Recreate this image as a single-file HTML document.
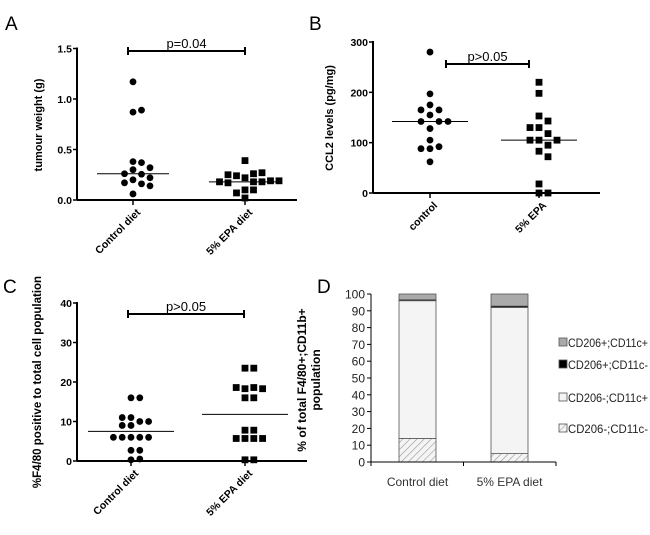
<!DOCTYPE html>
<html><head><meta charset="utf-8">
<style>
html,body{margin:0;padding:0;background:#fff;}
svg{display:block;font-family:"Liberation Sans",sans-serif;}
</style></head>
<body>
<svg id="fig" width="650" height="535" viewBox="0 0 650 535"></svg>
<script>
// Panel A data
const aCats = ["Control diet","5% EPA diet"];
const aControl = [1.17,0.87,0.89,0.38,0.37,0.30,0.255,0.26,0.32,0.20,0.16,0.17,0.14,0.22,0.06];
const aEPA = [0.39,0.22,0.26,0.24,0.27,0.25,0.18,0.18,0.19,0.17,0.18,0.19,0.10,0.10,0.07,0.02];
const aMedians = [0.26,0.18];
const aTicks = [0,0.5,1.0,1.5];
const aTickLabels = ["0.0","0.5","1.0","1.5"];
// Panel B data
const bCats = ["control","5% EPA"];
const bControl = [280,197,175,165,165,155,142,142,142,128,105,92,88,88,62];
const bEPA = [220,198,153,143,130,130,118,105,105,105,95,83,72,18,0,0];
const bMedians = [142,105];
const bTicks = [0,100,200,300];
// Panel C data
const cCats = ["Control diet","5% EPA diet"];
const cControl = [16,16,11,10,9,9,10,11,6,6,6,6,6,2.7,2.7,0.3,0.5];
const cEPA = [23.5,23.5,18.3,18.6,18.6,18.3,16,16,7.8,7.8,5.7,5.7,5.7,5.7,0.3,0.3];
const cMedians = [7.5,11.8];
const cTicks = [0,10,20,30,40];
// Panel D data
const dCats = ["Control diet","5% EPA diet"];
const dSeries = ["CD206-;CD11c-","CD206-;CD11c+","CD206+;CD11c-","CD206+;CD11c+"];
const dValues = [[14,5],[82,87],[0.6,0.8],[3.4,7.2]];
const dTicks = [0,10,20,30,40,50,60,70,80,90,100];

const NS="http://www.w3.org/2000/svg";
const svg=document.getElementById('fig');
const defs=document.createElementNS(NS,'defs');
defs.innerHTML='<pattern id="hatch" width="5" height="5" patternUnits="userSpaceOnUse" patternTransform="rotate(45)"><rect width="5" height="5" fill="#f4f4f4"/><line x1="0" y1="0" x2="0" y2="5" stroke="#999" stroke-width="1.2"/></pattern>';
svg.appendChild(defs);
function el(tag,attrs,parent,text){const e=document.createElementNS(NS,tag);for(const k in attrs)e.setAttribute(k,attrs[k]);if(text!==undefined)e.textContent=text;(parent||svg).appendChild(e);return e;}

function scatterPanel(o){
  const g=el('g',{});
  
  
  const y=v=>o.y0-(v-o.min)/(o.max-o.min)*(o.y0-o.y1);
  const ya=el('line',{x1:o.ax,y1:o.y1-1,x2:o.ax,y2:o.y0,stroke:'#000','stroke-width':2},g);
  
  const xa=el('line',{x1:o.ax,y1:o.y0,x2:o.axEnd,y2:o.y0,stroke:'#000','stroke-width':2},g);
  
  o.ticks.forEach((t,i)=>{
    el('line',{x1:o.ax-4,y1:y(t),x2:o.ax,y2:y(t),stroke:'#000','stroke-width':1.5},g);
    const tl=el('text',{x:o.ax-5,y:y(t)+4,'text-anchor':'end','font-size':10.5,'font-weight':'bold'},g,o.tickLabels?o.tickLabels[i]:String(t));
    
  });
  const cx=o.centers;
  o.cats.forEach((c,i)=>{
    el('line',{x1:cx[i],y1:o.y0,x2:cx[i],y2:o.y0+5,stroke:'#000','stroke-width':1.5},g);
    const ax=cx[i]+8, ay=o.y0+13;
    const t=el('text',{x:ax,y:ay,'text-anchor':'end','font-size':10.5,'font-weight':'bold',transform:`rotate(-45 ${ax} ${ay})`},g,c);
    
  });
  [o.s1,o.s2].forEach((vals,si)=>{
    const placed=[];const step=o.step,d=o.dia;
    vals.forEach(v=>{
      const py=y(v);let px=cx[si];
      for(let k=0;k<20;k++){
        const off=(k%2?1:-1)*Math.ceil(k/2)*step;
        const cand=cx[si]+off;
        if(placed.every(p=>Math.hypot(p[0]-cand,p[1]-py)>=d)){px=cand;break;}
      }
      placed.push([px,py]);
      let m;
      if(si===0){m=el('circle',{cx:px,cy:py,r:o.r,fill:'#000'},g);}
      else{m=el('rect',{x:px-o.r,y:py-o.r,width:o.r*2,height:o.r*2,fill:'#000'},g);}
      
    });
    const med=el('line',{x1:cx[si]-o.medHalf,y1:y(o.medians[si]),x2:cx[si]+o.medHalf,y2:y(o.medians[si]),stroke:'#000','stroke-width':1},g);
    
  });
  const bg=el('g',{},g);
  el('line',{x1:o.br[0],y1:o.br[2],x2:o.br[1],y2:o.br[2],stroke:'#000','stroke-width':2},bg);
  el('line',{x1:o.br[0],y1:o.br[2]-4,x2:o.br[0],y2:o.br[2]+4,stroke:'#000','stroke-width':2},bg);
  el('line',{x1:o.br[1],y1:o.br[2]-4,x2:o.br[1],y2:o.br[2]+4,stroke:'#000','stroke-width':2},bg);
  const pt=el('text',{x:(o.br[0]+o.br[1])/2,y:o.br[2]-3,'text-anchor':'middle','font-size':13},bg,o.p);
  
  const yt=el('text',{x:o.yt[0],y:o.yt[1],'text-anchor':'middle','font-size':o.ytSize||11,'font-weight':'bold',transform:`rotate(-90 ${o.yt[0]} ${o.yt[1]})`},g,o.ytitle);
  
}

scatterPanel({name:'panel-a-tumour-weight',ax:77,axEnd:297,y0:200,y1:48.5,min:0,max:1.5,ticks:aTicks,tickLabels:aTickLabels,cats:aCats,centers:[133,245],s1:aControl,s2:aEPA,medians:aMedians,medHalf:36,r:3.4,dia:7.4,step:8.5,br:[128,245,51],p:'p=0.04',ytitle:'tumour weight (g)',yt:[42,125]});
scatterPanel({name:'panel-b-ccl2-levels',ax:373,axEnd:600,y0:193,y1:42,min:0,max:300,ticks:bTicks,cats:bCats,centers:[430,539],s1:bControl,s2:bEPA,medians:bMedians,medHalf:38,r:3.4,dia:7.4,step:9,br:[446,529,64],p:'p>0.05',ytitle:'CCL2 levels (pg/mg)',yt:[333,118]});
scatterPanel({name:'panel-c-f480-positive',ax:77,axEnd:307,y0:461,y1:303,min:0,max:40,ticks:cTicks,cats:cCats,centers:[131,245],s1:cControl,s2:cEPA,medians:cMedians,medHalf:43,r:3.4,dia:7.4,step:8.8,br:[128,244,314],p:'p>0.05',ytitle:'%F4/80 positive to total cell population',yt:[41,382],ytSize:11.5});

[['A',5,30],['B',309,30],['C',3,293],['D',317,293]].forEach(l=>{
  const t=el('text',{x:l[1],y:l[2],'font-size':19},svg,l[0]);
  
});

(function(){
  const g=el('g',{});
  
  
  const ax=371,y0=462,y1=294,axEnd=556;
  const y=v=>y0-v/100*(y0-y1);
  const fills=['url(#hatch)','#f4f4f4','#000','#aaa'];
  const lefts=[399,491],bw=37;
  dCats.forEach((c,ci)=>{
    let acc=0;
    dValues.forEach((ser,si)=>{
      const v=ser[ci];
      const r=el('rect',{x:lefts[ci],y:y(acc+v),width:bw,height:y(acc)-y(acc+v),fill:fills[si],stroke:'#555','stroke-width':0.8},g);
      
      acc+=v;
    });
    const t=el('text',{x:lefts[ci]+bw/2,y:486,'text-anchor':'middle','font-size':12,fill:'#333'},g,c);
    
  });
  const ya=el('line',{x1:ax,y1:y1,x2:ax,y2:y0,stroke:'#000','stroke-width':1},g);
  
  const xa=el('line',{x1:ax,y1:y0,x2:axEnd,y2:y0,stroke:'#000','stroke-width':1},g);
  
  [ax,(ax+axEnd)/2,axEnd].forEach(x=>el('line',{x1:x,y1:y0,x2:x,y2:y0+4,stroke:'#000'},g));
  dTicks.forEach(t=>{
    el('line',{x1:ax-4,y1:y(t),x2:ax,y2:y(t),stroke:'#000'},g);
    const tl=el('text',{x:ax-6,y:y(t)+4.5,'text-anchor':'end','font-size':12,fill:'#222'},g,String(t));
    
  });
  const yt=el('text',{'text-anchor':'middle','font-size':12,'font-weight':'bold',transform:'rotate(-90 306 380)',x:306,y:380},g,'% of total F4/80+;CD11b+');
  
  const yt2=el('text',{'text-anchor':'middle','font-size':12,'font-weight':'bold',transform:'rotate(-90 320 380)',x:320,y:380},g,'population');
  
  const ly=[429,398,365,343];
  dSeries.forEach((s,si)=>{
    const lg=el('g',{},g);
    
    
    el('rect',{x:559,y:ly[si]-5,width:8,height:8,fill:fills[si],stroke:'#555','stroke-width':0.8},lg);
    el('text',{x:568,y:ly[si]+4,'font-size':11.5,fill:'#222',textLength:80,lengthAdjust:'spacingAndGlyphs'},lg,s);
  });
})();
</script>
</body></html>
